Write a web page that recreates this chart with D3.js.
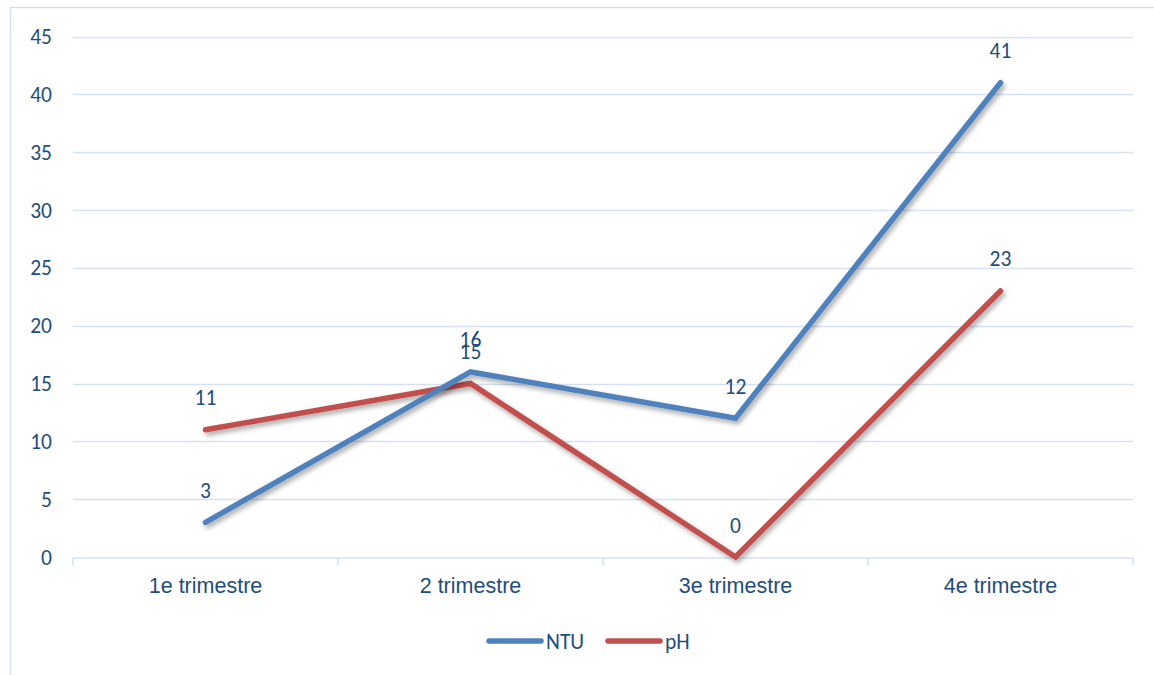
<!DOCTYPE html>
<html>
<head>
<meta charset="utf-8">
<script src="https://cdn.jsdelivr.net/npm/d3@7"></script>
<style>
  body { margin: 0; background: #fff; }
  svg { display: block; font-family: Carlito, Lato, "Open Sans", sans-serif; }
</style>
</head>
<body>
<svg width="1154" height="675"></svg>
<script>
var categories = ["1e trimestre", "2 trimestre", "3e trimestre", "4e trimestre"];
var ntuValues = [3, 16, 12, 41];
var phValues = [11, 15, 0, 23];
var yTicks = [0, 5, 10, 15, 20, 25, 30, 35, 40, 45];

var series = [
    { name: "NTU", values: ntuValues, color: "#4f81bd" },
    { name: "pH", values: phValues, color: "#c0504d" }
];

var svg = d3.select("svg");
var textColor = "#1f4e79";
var gridColor = "#d6e2f3";
var fontSize = 21.5;

// chart frame (cut on the right and bottom like the screenshot)
svg.append("rect")
    .attr("x", 10.5).attr("y", 7.5)
    .attr("width", 1160).attr("height", 700)
    .attr("fill", "none")
    .attr("stroke", "#d3def0")
    .attr("stroke-width", 1.5);

var defs = svg.append("defs");
var shadow = defs.append("filter").attr("id", "shadow")
    .attr("x", "-10%").attr("y", "-10%").attr("width", "130%").attr("height", "130%");
shadow.append("feDropShadow")
    .attr("dx", 2).attr("dy", 3).attr("stdDeviation", 2.5)
    .attr("flood-color", "#000").attr("flood-opacity", 0.35);

var plotLeft = 73, plotRight = 1133, plotTop = 36.5, plotBottom = 557;

var x = d3.scaleBand().domain(categories).range([plotLeft, plotRight]);
var y = d3.scaleLinear().domain([0, 45]).range([plotBottom, plotTop]);

// gridlines
svg.append("g")
    .selectAll("line")
    .data(yTicks.filter(function(d) { return d > 0; }))
    .enter().append("line")
    .attr("x1", plotLeft).attr("x2", plotRight)
    .attr("y1", function(d) { return Math.round(y(d)) + 0.5; })
    .attr("y2", function(d) { return Math.round(y(d)) + 0.5; })
    .attr("stroke", gridColor)
    .attr("stroke-width", 1.5);

// y axis labels
svg.append("g")
    .selectAll("text")
    .data(yTicks)
    .enter().append("text")
    .attr("x", 52)
    .attr("y", function(d) { return y(d); })
    .attr("dy", "0.35em")
    .attr("text-anchor", "end")
    .attr("fill", textColor)
    .attr("font-size", fontSize)
    .text(function(d) { return d; });

// x axis
var xAxis = svg.append("g")
    .attr("transform", "translate(0," + (plotBottom + 0.5) + ")")
    .call(d3.axisBottom(x).tickSize(0).tickPadding(20));
xAxis.select(".domain").attr("stroke", gridColor).attr("stroke-width", 1.5);
xAxis.selectAll("text")
    .attr("fill", textColor)
    .attr("font-size", fontSize)
    .attr("font-family", null);

var bounds = [plotLeft].concat(categories.map(function(c) { return x(c) + x.bandwidth(); }));
xAxis.selectAll(".bound")
    .data(bounds)
    .enter().append("line")
    .attr("class", "bound")
    .attr("x1", function(d) { return d; }).attr("x2", function(d) { return d; })
    .attr("y1", 0).attr("y2", 8)
    .attr("stroke", gridColor)
    .attr("stroke-width", 1.5);

var line = d3.line()
    .x(function(d, i) { return x(categories[i]) + x.bandwidth() / 2; })
    .y(function(d) { return y(d); });

// draw series (pH first so NTU lies on top)
series.slice().reverse().forEach(function(s) {
    svg.append("path")
        .datum(s.values)
        .attr("d", line)
        .attr("fill", "none")
        .attr("stroke", s.color)
        .attr("stroke-width", 5.5)
        .attr("stroke-linecap", "round")
        .attr("stroke-linejoin", "miter")
        .attr("filter", "url(#shadow)");
});

// data labels
series.forEach(function(s) {
    svg.append("g")
        .selectAll("text")
        .data(s.values)
        .enter().append("text")
        .attr("x", function(d, i) { return x(categories[i]) + x.bandwidth() / 2; })
        .attr("y", function(d) { return y(d) - 32; })
        .attr("dy", "0.35em")
        .attr("text-anchor", "middle")
        .attr("fill", textColor)
        .attr("font-size", fontSize)
        .text(function(d) { return d; });
});

// legend
var legendX = [487, 606];
var legend = svg.append("g").selectAll("g")
    .data(series)
    .enter().append("g")
    .attr("transform", function(d, i) { return "translate(" + legendX[i] + ",641)"; });
legend.append("line")
    .attr("x1", 2).attr("x2", 54)
    .attr("stroke", function(d) { return d.color; })
    .attr("stroke-width", 5.5)
    .attr("stroke-linecap", "round");
legend.append("text")
    .attr("x", 59)
    .attr("dy", "0.35em")
    .attr("fill", textColor)
    .attr("font-size", fontSize)
    .text(function(d) { return d.name; });
</script>
</body>
</html>
